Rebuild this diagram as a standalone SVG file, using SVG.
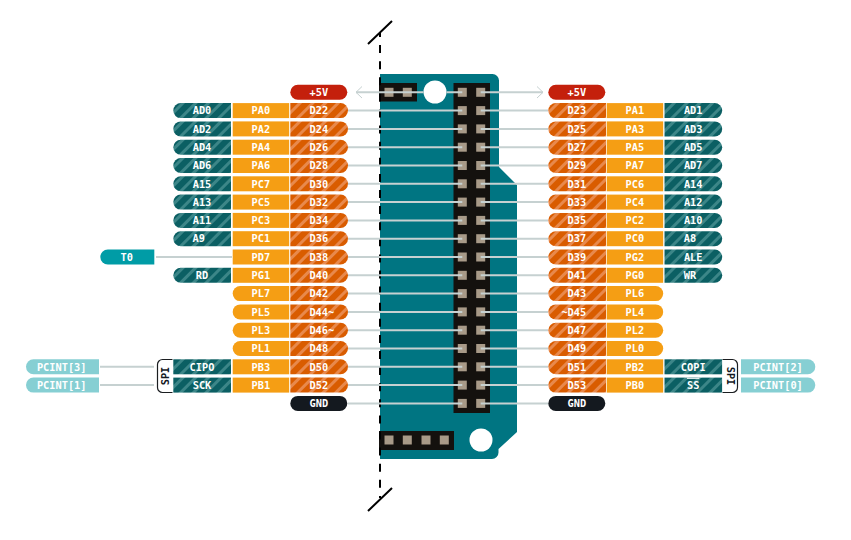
<svg xmlns="http://www.w3.org/2000/svg" width="851" height="540" viewBox="0 0 851 540">
<style>
text{font-family:"DejaVu Sans Mono","Liberation Mono",monospace;font-weight:700;font-size:10.3px;fill:#fff;text-anchor:middle}
.pa{fill:#f59e14}.d{fill:url(#ho)}.a{fill:url(#ht)}.r{fill:#c4200c}.k{fill:#14191f}.t{fill:#009ca6}.c{fill:#86cfd3}
.w{fill:none;stroke:#c6d1d1;stroke-width:2}
.pin{fill:#a89a88}.hdr{fill:#14110e}
.sb{fill:#fff;stroke:#1a1d20;stroke-width:1.2}
text.sp{fill:#14191f}
</style>
<defs>
<pattern id="ho" patternUnits="userSpaceOnUse" width="9" height="9" patternTransform="rotate(45)"><rect width="9" height="9" fill="#d95c00"/><rect width="3" height="9" fill="#e8894c"/></pattern>
<pattern id="ht" patternUnits="userSpaceOnUse" width="9" height="9" patternTransform="rotate(45)"><rect width="9" height="9" fill="#0b5f63"/><rect width="3" height="9" fill="#3c8688"/></pattern>
<path id="lr" d="M7.5-7.5H57.7V7.5H7.5a7.5 7.5 0 0 1 0-15z"/>
<path id="rr" d="M0-7.5H50.2a7.5 7.5 0 0 1 0 15H0z"/>
<path id="pl" d="M7.5-7.5H56.5V7.5H7.5a7.5 7.5 0 0 1 0-15z"/>
<path id="pr" d="M0-7.5H49a7.5 7.5 0 0 1 0 15H0z"/>
<rect id="sq" x="0" y="-7.5" width="56.5" height="15"/>
<rect id="sa" x="0" y="-7.5" width="57.7" height="15"/>
<rect id="pp" x="0" y="-7.5" width="57" height="15" rx="7.5"/>
<path id="lr2" d="M7.5-7.5H54V7.5H7.5a7.5 7.5 0 0 1 0-15z"/>
<path id="lr3" d="M7.5-7.5H73V7.5H7.5a7.5 7.5 0 0 1 0-15z"/>
<path id="rr3" d="M0-7.5H66.8a7.5 7.5 0 0 1 0 15H0z"/>
<rect id="p" x="-4.5" y="-4.5" width="9" height="9"/>
</defs>

<g id="board">
<path d="M380 74H492.5a6.500 6.500 0 0 1 6.500 6.500V167L517 185V432L498.500 449V452.500a6.500 6.500 0 0 1-6.500 6.500H380z" fill="#007582"/>
<circle cx="435" cy="92" r="11.500" fill="#fff"/>
<circle cx="481" cy="440" r="11.500" fill="#fff"/>
<rect class="hdr" x="453.500" y="83" width="36.500" height="330"/>
<rect class="hdr" x="379" y="83" width="38" height="18.500"/>
<rect class="hdr" x="379" y="431" width="75" height="19"/>
<g class="pin">
<use href="#p" x="389" y="92.300"/><use href="#p" x="407.300" y="92.300"/>
<use href="#p" x="389" y="440"/><use href="#p" x="407.300" y="440"/><use href="#p" x="426" y="440"/><use href="#p" x="444.300" y="440"/>
<use href="#p" x="462.300" y="92.300"/><use href="#p" x="480.700" y="92.300"/>
<use href="#p" x="462.300" y="110.600"/><use href="#p" x="480.700" y="110.600"/>
<use href="#p" x="462.300" y="128.900"/><use href="#p" x="480.700" y="128.900"/>
<use href="#p" x="462.300" y="147.200"/><use href="#p" x="480.700" y="147.200"/>
<use href="#p" x="462.300" y="165.500"/><use href="#p" x="480.700" y="165.500"/>
<use href="#p" x="462.300" y="183.800"/><use href="#p" x="480.700" y="183.800"/>
<use href="#p" x="462.300" y="202.100"/><use href="#p" x="480.700" y="202.100"/>
<use href="#p" x="462.300" y="220.400"/><use href="#p" x="480.700" y="220.400"/>
<use href="#p" x="462.300" y="238.700"/><use href="#p" x="480.700" y="238.700"/>
<use href="#p" x="462.300" y="257"/><use href="#p" x="480.700" y="257"/>
<use href="#p" x="462.300" y="275.300"/><use href="#p" x="480.700" y="275.300"/>
<use href="#p" x="462.300" y="293.600"/><use href="#p" x="480.700" y="293.600"/>
<use href="#p" x="462.300" y="311.900"/><use href="#p" x="480.700" y="311.900"/>
<use href="#p" x="462.300" y="330.200"/><use href="#p" x="480.700" y="330.200"/>
<use href="#p" x="462.300" y="348.500"/><use href="#p" x="480.700" y="348.500"/>
<use href="#p" x="462.300" y="366.800"/><use href="#p" x="480.700" y="366.800"/>
<use href="#p" x="462.300" y="385.100"/><use href="#p" x="480.700" y="385.100"/>
<use href="#p" x="462.300" y="403.400"/><use href="#p" x="480.700" y="403.400"/>
</g>
<path d="M380 33V498" fill="none" stroke="#000" stroke-width="2" stroke-dasharray="8 8.1" stroke-dashoffset="4"/>
<path d="M368 44L392 21M368 511L392 488" fill="none" stroke="#000" stroke-width="2"/>
</g>

<g id="connectors" class="w">
<path d="M356 92.300H423.500M446.500 92.300H462.300M480.700 92.300H543"/>
<path d="M362 86.500L356 92.300L362 98M537 86.500L543 92.300L537 98" stroke-width="1"/>
<path d="M348 110.600H462.300M348 128.900H462.300M348 147.200H462.300M348 165.500H462.300M348 183.800H462.300M348 202.100H462.300M348 220.400H462.300M348 238.700H462.300M348 257H462.300M348 275.300H462.300M348 293.600H462.300M348 311.900H462.300M348 330.200H462.300M348 348.500H462.300M348 366.800H462.300M348 385.100H462.300M348 403.400H462.300"/>
<path d="M480.700 110.600H548M480.700 128.900H548M480.700 147.200H548M480.700 165.500H548M480.700 183.800H548M480.700 202.100H548M480.700 220.400H548M480.700 238.700H548M480.700 257H548M480.700 275.300H548M480.700 293.600H548M480.700 311.900H548M480.700 330.200H548M480.700 348.500H548M480.700 366.800H548M480.700 385.100H548M480.700 403.400H548"/>
<path d="M156 257H232M100 366.800H154M100 385.100H154"/>
</g>

<g id="l5v" transform="translate(290.300,92.300)"><use href="#pp" class="r"/><text x="28.500" y="3.700">+5V</text></g>
<g id="r5v" transform="translate(548.300,92.300)"><use href="#pp" class="r"/><text x="28.500" y="3.700">+5V</text></g>
<g id="lgnd" transform="translate(290.300,403.400)"><use href="#pp" class="k"/><text x="28.500" y="3.700">GND</text></g>
<g id="rgnd" transform="translate(548.300,403.400)"><use href="#pp" class="k"/><text x="28.500" y="3.700">GND</text></g>

<g id="ad0" transform="translate(173.300,110.600)"><use href="#lr" class="a"/><text x="28.700" y="3.700">AD0</text></g>
<g id="pa0" transform="translate(232.700,110.600)"><use href="#sq" class="pa"/><text x="28.200" y="3.700">PA0</text></g>
<g id="d22" transform="translate(290.300,110.600)"><use href="#rr" class="d"/><text x="28.500" y="3.700">D22</text></g>
<g id="ad2" transform="translate(173.300,128.900)"><use href="#lr" class="a"/><text x="28.700" y="3.700">AD2</text></g>
<g id="pa2" transform="translate(232.700,128.900)"><use href="#sq" class="pa"/><text x="28.200" y="3.700">PA2</text></g>
<g id="d24" transform="translate(290.300,128.900)"><use href="#rr" class="d"/><text x="28.500" y="3.700">D24</text></g>
<g id="ad4" transform="translate(173.300,147.200)"><use href="#lr" class="a"/><text x="28.700" y="3.700">AD4</text></g>
<g id="pa4" transform="translate(232.700,147.200)"><use href="#sq" class="pa"/><text x="28.200" y="3.700">PA4</text></g>
<g id="d26" transform="translate(290.300,147.200)"><use href="#rr" class="d"/><text x="28.500" y="3.700">D26</text></g>
<g id="ad6" transform="translate(173.300,165.500)"><use href="#lr" class="a"/><text x="28.700" y="3.700">AD6</text></g>
<g id="pa6" transform="translate(232.700,165.500)"><use href="#sq" class="pa"/><text x="28.200" y="3.700">PA6</text></g>
<g id="d28" transform="translate(290.300,165.500)"><use href="#rr" class="d"/><text x="28.500" y="3.700">D28</text></g>
<g id="a15" transform="translate(173.300,183.800)"><use href="#lr" class="a"/><text x="28.700" y="3.700">A15</text></g>
<g id="pc7" transform="translate(232.700,183.800)"><use href="#sq" class="pa"/><text x="28.200" y="3.700">PC7</text></g>
<g id="d30" transform="translate(290.300,183.800)"><use href="#rr" class="d"/><text x="28.500" y="3.700">D30</text></g>
<g id="a13" transform="translate(173.300,202.100)"><use href="#lr" class="a"/><text x="28.700" y="3.700">A13</text></g>
<g id="pc5" transform="translate(232.700,202.100)"><use href="#sq" class="pa"/><text x="28.200" y="3.700">PC5</text></g>
<g id="d32" transform="translate(290.300,202.100)"><use href="#rr" class="d"/><text x="28.500" y="3.700">D32</text></g>
<g id="a11" transform="translate(173.300,220.400)"><use href="#lr" class="a"/><text x="28.700" y="3.700">A11</text></g>
<g id="pc3" transform="translate(232.700,220.400)"><use href="#sq" class="pa"/><text x="28.200" y="3.700">PC3</text></g>
<g id="d34" transform="translate(290.300,220.400)"><use href="#rr" class="d"/><text x="28.500" y="3.700">D34</text></g>
<g id="a9" transform="translate(173.300,238.700)"><use href="#lr" class="a"/><text x="25.500" y="3.700">A9</text></g>
<g id="pc1" transform="translate(232.700,238.700)"><use href="#sq" class="pa"/><text x="28.200" y="3.700">PC1</text></g>
<g id="d36" transform="translate(290.300,238.700)"><use href="#rr" class="d"/><text x="28.500" y="3.700">D36</text></g>
<g id="t0" transform="translate(100.300,257)"><use href="#lr2" class="t"/><text x="26.500" y="3.700">T0</text></g>
<g id="pd7" transform="translate(232.700,257)"><use href="#sq" class="pa"/><text x="28.200" y="3.700">PD7</text></g>
<g id="d38" transform="translate(290.300,257)"><use href="#rr" class="d"/><text x="28.500" y="3.700">D38</text></g>
<g id="rd" transform="translate(173.300,275.300)"><use href="#lr" class="a"/><text x="28.700" y="3.700">RD</text></g>
<g id="pg1" transform="translate(232.700,275.300)"><use href="#sq" class="pa"/><text x="28.200" y="3.700">PG1</text></g>
<g id="d40" transform="translate(290.300,275.300)"><use href="#rr" class="d"/><text x="28.500" y="3.700">D40</text></g>
<g id="pl7" transform="translate(232.700,293.600)"><use href="#pl" class="pa"/><text x="28.200" y="3.700">PL7</text></g>
<g id="d42" transform="translate(290.300,293.600)"><use href="#rr" class="d"/><text x="28.500" y="3.700">D42</text></g>
<g id="pl5" transform="translate(232.700,311.900)"><use href="#pl" class="pa"/><text x="28.200" y="3.700">PL5</text></g>
<g id="d44" transform="translate(290.300,311.900)"><use href="#rr" class="d"/><text x="31.500" y="3.700">D44~</text></g>
<g id="pl3" transform="translate(232.700,330.200)"><use href="#pl" class="pa"/><text x="28.200" y="3.700">PL3</text></g>
<g id="d46" transform="translate(290.300,330.200)"><use href="#rr" class="d"/><text x="31.500" y="3.700">D46~</text></g>
<g id="pl1" transform="translate(232.700,348.500)"><use href="#pl" class="pa"/><text x="28.200" y="3.700">PL1</text></g>
<g id="d48" transform="translate(290.300,348.500)"><use href="#rr" class="d"/><text x="28.500" y="3.700">D48</text></g>
<g id="pcint3" transform="translate(26,366.800)"><use href="#lr3" class="c"/><text x="35.700" y="3.700">PCINT[3]</text></g>
<g id="cipo" transform="translate(173.300,366.800)"><use href="#sa" class="a"/><text x="28.700" y="3.700">CIPO</text></g>
<g id="pb3" transform="translate(232.700,366.800)"><use href="#sq" class="pa"/><text x="28.200" y="3.700">PB3</text></g>
<g id="d50" transform="translate(290.300,366.800)"><use href="#rr" class="d"/><text x="28.500" y="3.700">D50</text></g>
<g id="pcint1" transform="translate(26,385.100)"><use href="#lr3" class="c"/><text x="35.700" y="3.700">PCINT[1]</text></g>
<g id="sck" transform="translate(173.300,385.100)"><use href="#sa" class="a"/><text x="28.700" y="3.700">SCK</text></g>
<g id="pb1" transform="translate(232.700,385.100)"><use href="#sq" class="pa"/><text x="28.200" y="3.700">PB1</text></g>
<g id="d52" transform="translate(290.300,385.100)"><use href="#rr" class="d"/><text x="28.500" y="3.700">D52</text></g>
<g id="spil"><path class="sb" d="M172.500 359.500H162.500a5 5 0 0 0-5 5V387.500a5 5 0 0 0 5 5H172.500"/><text class="sp" transform="translate(168.700,376) rotate(-90)">SPI</text></g>

<g id="d23" transform="translate(548.300,110.600)"><use href="#lr" class="d"/><text x="28.500" y="3.700">D23</text></g>
<g id="pa1" transform="translate(606.700,110.600)"><use href="#sq" class="pa"/><text x="28.200" y="3.700">PA1</text></g>
<g id="ad1" transform="translate(664.500,110.600)"><use href="#rr" class="a"/><text x="28.700" y="3.700">AD1</text></g>
<g id="d25" transform="translate(548.300,128.900)"><use href="#lr" class="d"/><text x="28.500" y="3.700">D25</text></g>
<g id="pa3" transform="translate(606.700,128.900)"><use href="#sq" class="pa"/><text x="28.200" y="3.700">PA3</text></g>
<g id="ad3" transform="translate(664.500,128.900)"><use href="#rr" class="a"/><text x="28.700" y="3.700">AD3</text></g>
<g id="d27" transform="translate(548.300,147.200)"><use href="#lr" class="d"/><text x="28.500" y="3.700">D27</text></g>
<g id="pa5" transform="translate(606.700,147.200)"><use href="#sq" class="pa"/><text x="28.200" y="3.700">PA5</text></g>
<g id="ad5" transform="translate(664.500,147.200)"><use href="#rr" class="a"/><text x="28.700" y="3.700">AD5</text></g>
<g id="d29" transform="translate(548.300,165.500)"><use href="#lr" class="d"/><text x="28.500" y="3.700">D29</text></g>
<g id="pa7" transform="translate(606.700,165.500)"><use href="#sq" class="pa"/><text x="28.200" y="3.700">PA7</text></g>
<g id="ad7" transform="translate(664.500,165.500)"><use href="#rr" class="a"/><text x="28.700" y="3.700">AD7</text></g>
<g id="d31" transform="translate(548.300,183.800)"><use href="#lr" class="d"/><text x="28.500" y="3.700">D31</text></g>
<g id="pc6" transform="translate(606.700,183.800)"><use href="#sq" class="pa"/><text x="28.200" y="3.700">PC6</text></g>
<g id="a14" transform="translate(664.500,183.800)"><use href="#rr" class="a"/><text x="28.700" y="3.700">A14</text></g>
<g id="d33" transform="translate(548.300,202.100)"><use href="#lr" class="d"/><text x="28.500" y="3.700">D33</text></g>
<g id="pc4" transform="translate(606.700,202.100)"><use href="#sq" class="pa"/><text x="28.200" y="3.700">PC4</text></g>
<g id="a12" transform="translate(664.500,202.100)"><use href="#rr" class="a"/><text x="28.700" y="3.700">A12</text></g>
<g id="d35" transform="translate(548.300,220.400)"><use href="#lr" class="d"/><text x="28.500" y="3.700">D35</text></g>
<g id="pc2" transform="translate(606.700,220.400)"><use href="#sq" class="pa"/><text x="28.200" y="3.700">PC2</text></g>
<g id="a10" transform="translate(664.500,220.400)"><use href="#rr" class="a"/><text x="28.700" y="3.700">A10</text></g>
<g id="d37" transform="translate(548.300,238.700)"><use href="#lr" class="d"/><text x="28.500" y="3.700">D37</text></g>
<g id="pc0" transform="translate(606.700,238.700)"><use href="#sq" class="pa"/><text x="28.200" y="3.700">PC0</text></g>
<g id="a8" transform="translate(664.500,238.700)"><use href="#rr" class="a"/><text x="25.500" y="3.700">A8</text></g>
<g id="d39" transform="translate(548.300,257)"><use href="#lr" class="d"/><text x="28.500" y="3.700">D39</text></g>
<g id="pg2" transform="translate(606.700,257)"><use href="#sq" class="pa"/><text x="28.200" y="3.700">PG2</text></g>
<g id="ale" transform="translate(664.500,257)"><use href="#rr" class="a"/><text x="28.700" y="3.700">ALE</text></g>
<g id="d41" transform="translate(548.300,275.300)"><use href="#lr" class="d"/><text x="28.500" y="3.700">D41</text></g>
<g id="pg0" transform="translate(606.700,275.300)"><use href="#sq" class="pa"/><text x="28.200" y="3.700">PG0</text></g>
<g id="wr" transform="translate(664.500,275.300)"><use href="#rr" class="a"/><text x="25.500" y="3.700">WR</text></g>
<g id="d43" transform="translate(548.300,293.600)"><use href="#lr" class="d"/><text x="28.500" y="3.700">D43</text></g>
<g id="pl6" transform="translate(606.700,293.600)"><use href="#pr" class="pa"/><text x="28.200" y="3.700">PL6</text></g>
<g id="d45" transform="translate(548.300,311.900)"><use href="#lr" class="d"/><text x="25.500" y="3.700">~D45</text></g>
<g id="pl4" transform="translate(606.700,311.900)"><use href="#pr" class="pa"/><text x="28.200" y="3.700">PL4</text></g>
<g id="d47" transform="translate(548.300,330.200)"><use href="#lr" class="d"/><text x="28.500" y="3.700">D47</text></g>
<g id="pl2" transform="translate(606.700,330.200)"><use href="#pr" class="pa"/><text x="28.200" y="3.700">PL2</text></g>
<g id="d49" transform="translate(548.300,348.500)"><use href="#lr" class="d"/><text x="28.500" y="3.700">D49</text></g>
<g id="pl0" transform="translate(606.700,348.500)"><use href="#pr" class="pa"/><text x="28.200" y="3.700">PL0</text></g>
<g id="d51" transform="translate(548.300,366.800)"><use href="#lr" class="d"/><text x="28.500" y="3.700">D51</text></g>
<g id="pb2" transform="translate(606.700,366.800)"><use href="#sq" class="pa"/><text x="28.200" y="3.700">PB2</text></g>
<g id="copi" transform="translate(664.500,366.800)"><use href="#sa" class="a"/><text x="28.700" y="3.700">COPI</text></g>
<g id="pcint2" transform="translate(741,366.800)"><use href="#rr3" class="c"/><text x="37" y="3.700">PCINT[2]</text></g>
<g id="d53" transform="translate(548.300,385.100)"><use href="#lr" class="d"/><text x="28.500" y="3.700">D53</text></g>
<g id="pb0" transform="translate(606.700,385.100)"><use href="#sq" class="pa"/><text x="28.200" y="3.700">PB0</text></g>
<g id="ss" transform="translate(664.500,385.100)"><use href="#sa" class="a"/><text x="28.700" y="3.700" text-decoration="overline">SS</text></g>
<g id="pcint0" transform="translate(741,385.100)"><use href="#rr3" class="c"/><text x="37" y="3.700">PCINT[0]</text></g>
<g id="spir"><path class="sb" d="M722.500 359.500H732.500a5 5 0 0 1 5 5V387.500a5 5 0 0 1-5 5H722.500"/><text class="sp" transform="translate(726.800,376) rotate(90)">SPI</text></g>
</svg>
